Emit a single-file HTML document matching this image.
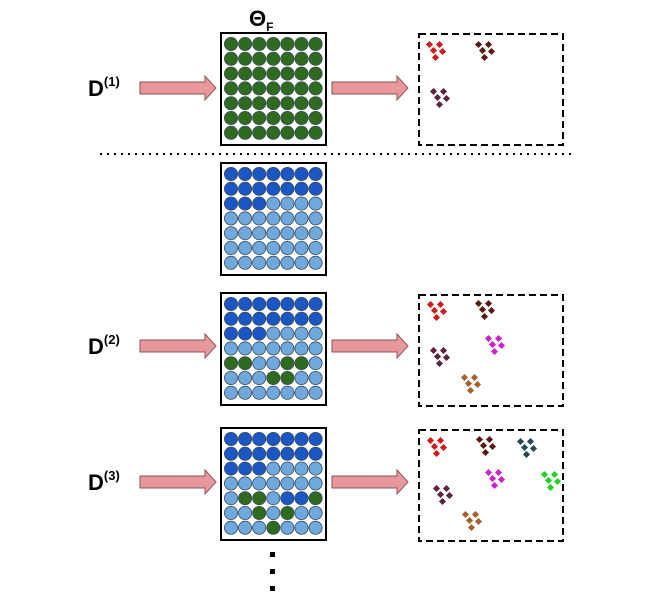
<!DOCTYPE html>
<html><head><style>body{margin:0;background:#fff}svg{display:block}</style></head><body>
<svg id="s" width="662" height="597" xmlns="http://www.w3.org/2000/svg" font-family="Liberation Sans, sans-serif">
<text x="249" y="26" font-size="22" font-weight="bold">Θ<tspan font-size="12" dy="5">F</tspan></text>
<line x1="100" y1="154" x2="572" y2="154" stroke="#000" stroke-width="2" stroke-dasharray="2,5"/>
<rect x="270" y="552" width="5" height="5" fill="#000"/>
<rect x="270" y="569" width="5" height="5" fill="#000"/>
<rect x="270" y="586" width="5" height="5" fill="#000"/>
<g id="g"></g>
</svg>
<script>
const s=document.getElementById('g');let h='';
const G='#2e6b1f',D='#1a56c4',L='#6ea8dc';
function grid(y0,rows){h+=`<rect x="221" y="${y0}" width="105" height="112" fill="#fff" stroke="#000" stroke-width="2"/>`;
for(let r=0;r<7;r++)for(let c=0;c<7;c++){const ch=rows[r][c];const col=ch=='G'?G:ch=='D'?D:L;
h+=`<circle cx="${231+c*14.1}" cy="${y0+11+r*14.8}" r="6.6" fill="${col}" stroke="#3a4a5a" stroke-width="0.8"/>`;}}
function arrows(cy){[[140,216],[332,408]].forEach(([a,b])=>{h+=`<polygon points="${a},${cy-6} ${b-11},${cy-6} ${b-11},${cy-12} ${b},${cy} ${b-11},${cy+12} ${b-11},${cy+6} ${a},${cy+6}" fill="#e8979a" stroke="#8a5555" stroke-width="1"/>`;});}
function label(cy,n){h+=`<text x="88" y="${cy+8}" font-size="22" font-weight="bold">D<tspan font-size="13" dy="-10">(${n})</tspan></text>`;}
function dbox(y0){h+=`<rect x="419" y="${y0}" width="144" height="111" fill="none" stroke="#000" stroke-width="2" stroke-dasharray="7,4"/>`;}
function cl(x,y,col){[[0,0],[10,0],[4,6],[13,7],[6,13]].forEach(([dx,dy])=>{h+=`<rect x="${x+dx}" y="${y+dy}" width="5" height="5" fill="${col}" transform="rotate(45 ${x+dx+2.5} ${y+dy+2.5})"/>`;});}
const R='#d01818',B='#5a1a12',P='#5c2240',M='#d020c8',O='#a8602a',T='#244a58',N='#20d020';
const all=['GGGGGGG','GGGGGGG','GGGGGGG','GGGGGGG','GGGGGGG','GGGGGGG','GGGGGGG'];
const base=['DDDDDDD','DDDDDDD','DDDLLLL','LLLLLLL','LLLLLLL','LLLLLLL','LLLLLLL'];
grid(33,all);arrows(88);label(88,1);dbox(34);cl(427,42,R);cl(476,42,B);cl(431,89,P);
grid(163,base);
const g3=base.slice();g3[4]='GGLLGGL';g3[5]='LLLGGLL';
grid(293,g3);arrows(346);label(346,2);dbox(295);cl(428,302,R);cl(476,301,B);cl(486,336,M);cl(431,348,P);cl(462,375,O);
const g4=base.slice();g4[4]='LGGLDDG';g4[5]='LLGLGLL';g4[6]='LLLGLLL';
grid(428,g4);arrows(482);label(482,3);dbox(430);cl(428,438,R);cl(477,437,B);cl(518,439,T);cl(486,470,M);cl(542,472,N);cl(434,486,P);cl(463,512,O);
s.innerHTML=h;
</script>
</body></html>
